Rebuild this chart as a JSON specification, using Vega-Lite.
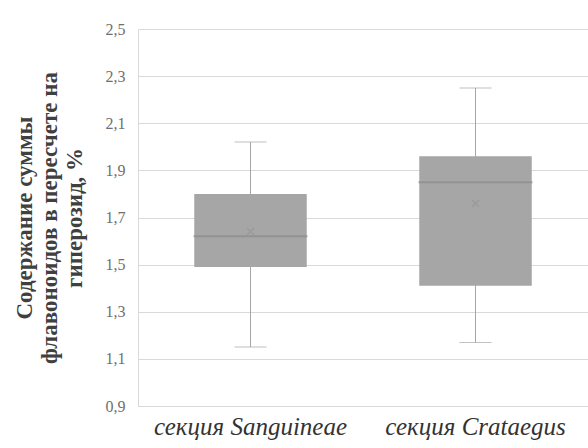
{
  "$schema": "https://vega.github.io/schema/vega-lite/v6.json",
  "width": 450,
  "height": 377,
  "autosize": "none",
  "padding": {"left": 138, "top": 29, "right": 0, "bottom": 42},
  "background": "white",
  "config": {"view": {"stroke": null}},
  "data": {"values": [
    {"section": "секция Sanguineae", "min": 1.15, "q1": 1.49, "median": 1.62, "q3": 1.80, "max": 2.02, "mean": 1.64},
    {"section": "секция Crataegus", "min": 1.17, "q1": 1.41, "median": 1.85, "q3": 1.96, "max": 2.25, "mean": 1.76}
  ]},
  "encoding": {
    "x": {"field": "section", "type": "nominal", "sort": null,
      "scale": {"paddingInner": 0, "paddingOuter": 0},
      "axis": {"title": null, "labelAngle": 0, "labelFont": "Liberation Serif", "labelFontStyle": "italic",
        "labelFontSize": 25, "labelColor": "#333333", "labelPadding": 8, "labelLimit": 0, "labelOverlap": false, "ticks": false,
        "domainColor": "#d9d9d9", "domainWidth": 1, "grid": false}}
  },
  "layer": [
    {
      "mark": {"type": "rule", "color": "#a6a6a6", "strokeWidth": 1},
      "encoding": {
        "y": {"field": "min", "type": "quantitative",
          "scale": {"domain": [0.9, 2.5], "nice": false, "zero": false},
          "axis": {"values": [0.9, 1.1, 1.3, 1.5, 1.7, 1.9, 2.1, 2.3, 2.5],
            "labelExpr": "replace(format(datum.value, '.1f'), '.', ',')",
            "labelFont": "Liberation Serif", "labelFontSize": 16, "labelColor": "#6f6f6f",
            "labelPadding": 13, "ticks": false, "domain": true, "domainColor": "#d9d9d9",
            "gridColor": "#d9d9d9", "gridWidth": 1,
            "title": ["Содержание суммы", "флавоноидов в пересчете на", "гиперозид, %"],
            "titleFont": "Liberation Serif", "titleFontSize": 23, "titleFontWeight": "bold",
            "titleColor": "#404040", "titlePadding": 19, "titleLineHeight": 25}},
        "y2": {"field": "max"}
      }
    },
    {
      "mark": {"type": "tick", "color": "#a6a6a6", "size": 32, "thickness": 1},
      "encoding": {"y": {"field": "min", "type": "quantitative"}}
    },
    {
      "mark": {"type": "tick", "color": "#a6a6a6", "size": 32, "thickness": 1},
      "encoding": {"y": {"field": "max", "type": "quantitative"}}
    },
    {
      "mark": {"type": "bar", "color": "#a6a6a6", "width": {"band": 0.5}},
      "encoding": {"y": {"field": "q1", "type": "quantitative"}, "y2": {"field": "q3"}}
    },
    {
      "mark": {"type": "tick", "color": "#8c8c8c", "size": 114, "thickness": 2},
      "encoding": {"y": {"field": "median", "type": "quantitative"}}
    },
    {
      "mark": {"type": "point", "shape": "M-1,-1L1,1M-1,1L1,-1", "color": "#939393", "filled": false, "size": 50, "strokeWidth": 1.2},
      "encoding": {"y": {"field": "mean", "type": "quantitative"}}
    }
  ]
}
